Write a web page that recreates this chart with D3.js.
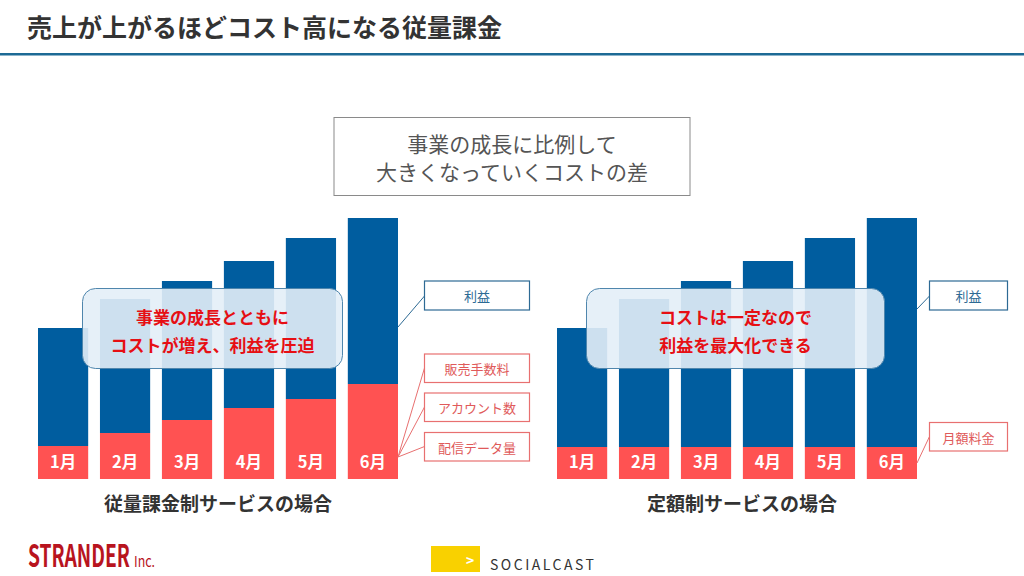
<!DOCTYPE html>
<html>
<head>
<meta charset="utf-8">
<script src="https://cdn.jsdelivr.net/npm/d3@7"></script>
<style>
  body { margin: 0; background: #fff; }
  text { font-family: "Noto Sans CJK JP", "Noto Sans", sans-serif; }
</style>
</head>
<body>
<svg id="chart" width="1024" height="576"></svg>
<script>
// data (bar heights in arbitrary units)
const months = ["1月", "2月", "3月", "4月", "5月", "6月"];
const usageCost = [33, 46, 59, 71, 80, 95];
const usageProfit = [118, 134, 139, 147, 161, 166];
const flatCost = [32, 32, 32, 32, 32, 32];
const flatProfit = [119, 148, 166, 186, 209, 229];
const usageLegend = ["販売手数料", "アカウント数", "配信データ量"];
const flatLegend = ["月額料金"];

const BLUE = "#005d9f";
const RED = "#ff5252";

const svg = d3.select("#chart");

// header
svg.append("text")
    .attr("x", 27).attr("y", 37)
    .attr("font-size", 25).attr("font-weight", 700)
    .attr("fill", "#333")
    .text("売上が上がるほどコスト高になる従量課金");
svg.append("rect")
    .attr("x", 0).attr("y", 53).attr("width", 1024).attr("height", 2.5)
    .attr("fill", "#1d6a95");

// top message box
const msg = svg.append("g");
msg.append("rect")
    .attr("x", 334).attr("y", 117.5).attr("width", 356).attr("height", 78)
    .attr("fill", "#fff").attr("stroke", "#8a8a8a").attr("stroke-width", 1);
msg.selectAll("text")
    .data(["事業の成長に比例して", "大きくなっていくコストの差"])
    .join("text")
    .attr("x", 512).attr("y", (d, i) => 143 + i * 28)
    .attr("text-anchor", "middle").attr("dominant-baseline", "central")
    .attr("font-size", 21).attr("fill", "#555")
    .text(d => d);

const y = d3.scaleLinear().domain([0, 261]).range([479, 218]);

function drawPanel(opts) {
    const g = svg.append("g");
    const x = d3.scaleBand().domain(months).range(opts.range).paddingInner(0.19);

    const rows = months.map((m, i) => ({ month: m, cost: opts.cost[i], profit: opts.profit[i] }));
    const series = d3.stack().keys(["cost", "profit"])(rows);

    g.selectAll("g.layer")
        .data(series)
        .join("g")
        .attr("class", "layer")
        .attr("fill", d => d.key === "cost" ? RED : BLUE)
        .selectAll("rect")
        .data(d => d)
        .join("rect")
        .attr("x", d => x(d.data.month))
        .attr("y", d => y(d[1]))
        .attr("width", x.bandwidth())
        .attr("height", d => y(d[0]) - y(d[1]));

    g.selectAll("text.month")
        .data(months)
        .join("text")
        .attr("class", "month")
        .attr("x", d => x(d) + x.bandwidth() / 2)
        .attr("y", y(0) - 18)
        .attr("text-anchor", "middle").attr("dominant-baseline", "central")
        .attr("font-size", 16.5).attr("font-weight", 700).attr("fill", "#fff")
        .text(d => d);

    // callout over the bars
    const c = opts.callout;
    g.append("rect")
        .attr("x", c.x).attr("y", 288.5).attr("width", c.w).attr("height", 80)
        .attr("rx", 13)
        .attr("fill", "#e3eef7").attr("fill-opacity", 0.9)
        .attr("stroke", "#4f86ad").attr("stroke-width", 1);
    g.selectAll("text.callout")
        .data(c.lines)
        .join("text")
        .attr("class", "callout")
        .attr("x", c.x + c.w / 2).attr("y", (d, i) => 316 + i * 28)
        .attr("text-anchor", "middle").attr("dominant-baseline", "central")
        .attr("font-size", 17).attr("font-weight", 700).attr("fill", "#e60f14")
        .text(d => d);

    // legend boxes
    const last = months[months.length - 1];
    const edge = x(last) + x.bandwidth();
    const lx = opts.legendX, lw = opts.legendW;

    g.append("line")
        .attr("x1", edge).attr("y1", opts.profitAnchor)
        .attr("x2", lx).attr("y2", 296)
        .attr("stroke", "#2d6a94").attr("stroke-width", 1);
    g.append("rect")
        .attr("x", lx).attr("y", 281).attr("width", lw).attr("height", 29)
        .attr("fill", "#fff").attr("stroke", "#2d6a94").attr("stroke-width", 1.2);
    g.append("text")
        .attr("x", lx + lw / 2).attr("y", 295.5)
        .attr("text-anchor", "middle").attr("dominant-baseline", "central")
        .attr("font-size", 13).attr("fill", "#2d6a94")
        .text("利益");

    opts.costLabels.forEach((label, i) => {
        const top = opts.costTops[i];
        g.append("line")
            .attr("x1", edge).attr("y1", opts.costAnchor)
            .attr("x2", lx).attr("y2", top + 14)
            .attr("stroke", "#e87070").attr("stroke-width", 1);
        g.append("rect")
            .attr("x", lx).attr("y", top).attr("width", lw).attr("height", 28.5)
            .attr("fill", "#fff").attr("stroke", "#e87070").attr("stroke-width", 1.2);
        g.append("text")
            .attr("x", lx + lw / 2).attr("y", top + 14.5)
            .attr("text-anchor", "middle").attr("dominant-baseline", "central")
            .attr("font-size", 13).attr("fill", "#e05a5a")
            .text(label);
    });

    g.append("text")
        .attr("x", opts.titleX).attr("y", 502)
        .attr("text-anchor", "middle").attr("dominant-baseline", "central")
        .attr("font-size", 19).attr("font-weight", 700).attr("fill", "#333")
        .text(opts.title);
}

drawPanel({
    range: [38, 398],
    cost: usageCost,
    profit: usageProfit,
    callout: { x: 82.5, w: 260, lines: ["事業の成長とともに", "コストが増え、利益を圧迫"] },
    legendX: 424.5, legendW: 105,
    profitAnchor: 327,
    costAnchor: 457,
    costLabels: usageLegend,
    costTops: [354, 393, 432.5],
    title: "従量課金制サービスの場合",
    titleX: 218
});

drawPanel({
    range: [557, 917],
    cost: flatCost,
    profit: flatProfit,
    callout: { x: 586.5, w: 298, lines: ["コストは一定なので", "利益を最大化できる"] },
    legendX: 929.5, legendW: 78,
    profitAnchor: 309,
    costAnchor: 463,
    costLabels: flatLegend,
    costTops: [422.5],
    title: "定額制サービスの場合",
    titleX: 742
});

// footer logos: condensed wordmark squeezed to its measured width
function squeezed(txt, x0, baseline, width, size, weight) {
    const t = svg.append("text")
        .attr("font-family", "'Liberation Sans', Arial, sans-serif")
        .attr("font-size", size).attr("font-weight", weight).attr("fill", "#b8141e")
        .text(txt);
    const natural = t.node().getComputedTextLength();
    t.attr("transform", `translate(${x0},${baseline}) scale(${width / natural},1)`);
}
squeezed("STRANDER", 28, 567, 102, 31, 700);
squeezed("Inc.", 134, 567, 21, 15, 400);

svg.append("rect")
    .attr("x", 431).attr("y", 546).attr("width", 49).attr("height", 26)
    .attr("fill", "#f9d100");
svg.append("text")
    .attr("x", 466).attr("y", 566)
    .attr("font-family", "'DejaVu Sans', sans-serif")
    .attr("font-size", 14).attr("font-weight", 700).attr("fill", "#fff")
    .text(">");
svg.append("text")
    .attr("x", 490).attr("y", 570)
    .attr("font-family", "'DejaVu Sans Mono', monospace")
    .attr("font-size", 14).attr("fill", "#333")
    .attr("textLength", 104).attr("lengthAdjust", "spacing")
    .text("SOCIALCAST");
</script>
</body>
</html>
